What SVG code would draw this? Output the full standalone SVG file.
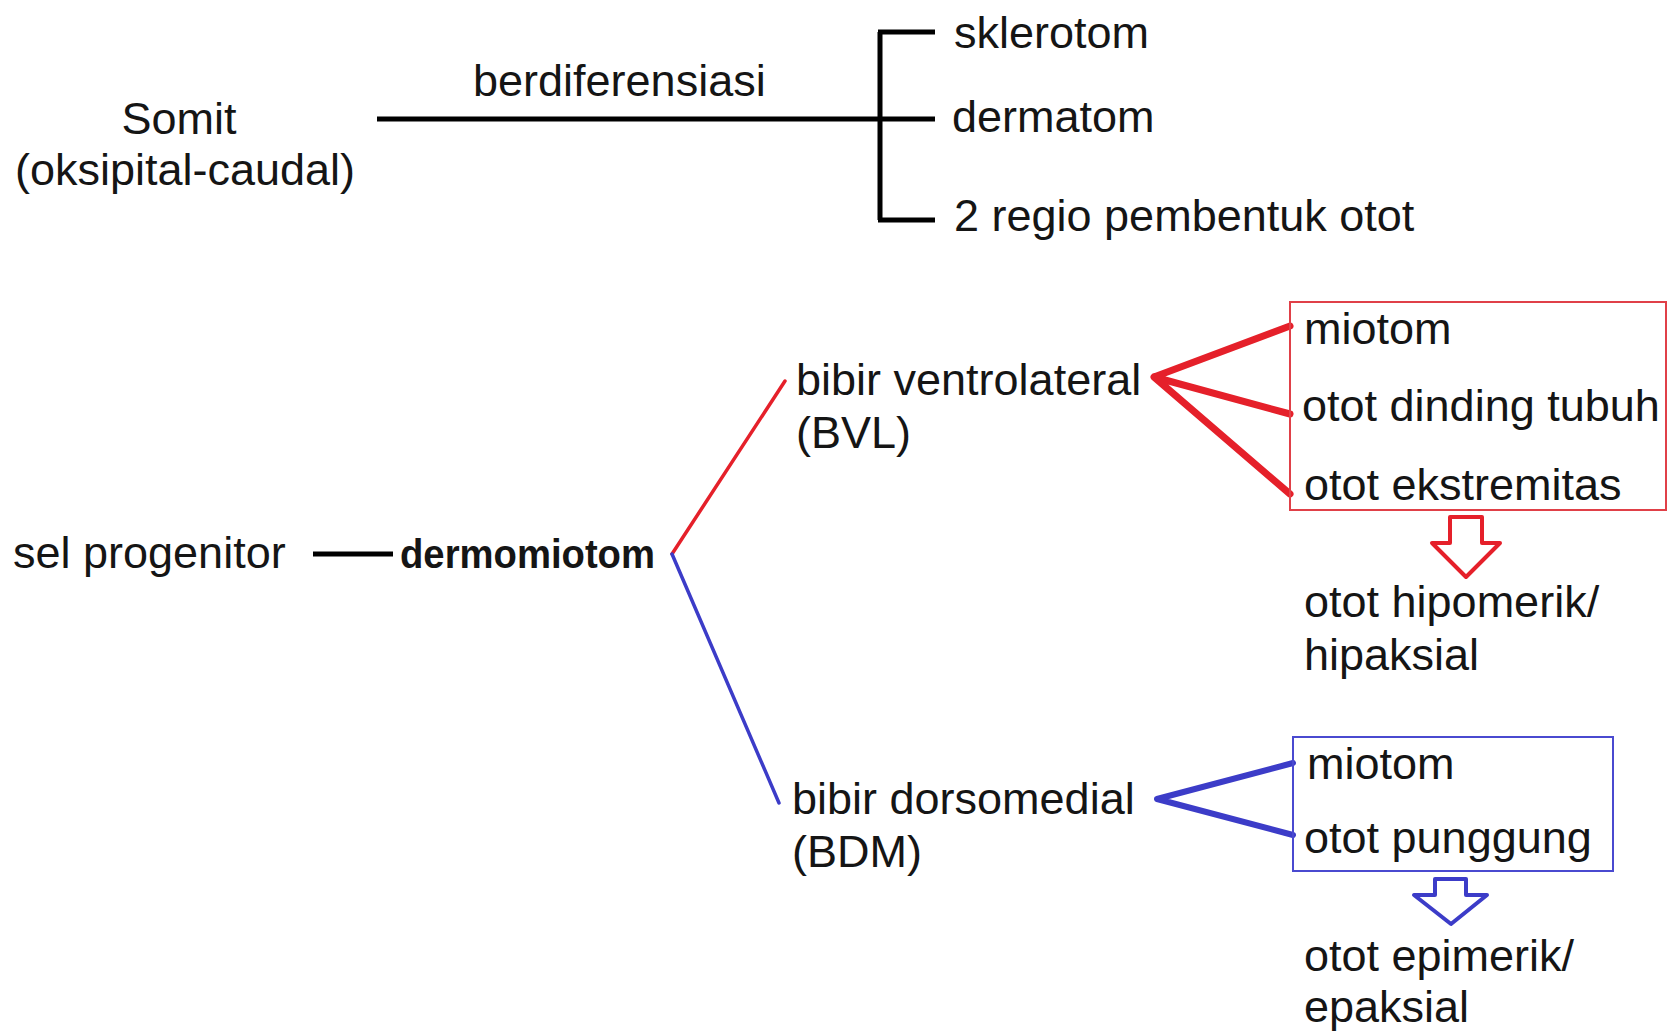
<svg xmlns="http://www.w3.org/2000/svg" width="1675" height="1032" viewBox="0 0 1675 1032">
<style>
text{font-family:"Liberation Sans",Arial,sans-serif;font-size:45px;fill:#151515}
.b{font-weight:bold;font-size:40px}
.k{stroke:#000;stroke-width:5;fill:none}
.r{stroke:#e5202a;fill:none;stroke-linecap:round;stroke-linejoin:round}
.u{stroke:#3c3cc8;fill:none;stroke-linecap:round;stroke-linejoin:round}
</style>
<rect width="1675" height="1032" fill="#fff"/>
<g id="connectors">
<path class="k" d="M377 119H935M880 32V220M878 32H935M878 220H935"/>
<path class="k" d="M313 554H393"/>
<path class="r" stroke-width="3.5" d="M672 554L785 381"/>
<path class="u" stroke-width="3.5" d="M672 554L779 803"/>
<path class="r" stroke-width="7" d="M1290 326L1154 377L1290 414M1154 377L1290 494"/>
<path class="u" stroke-width="6" d="M1293 763L1157 799L1293 835"/>
<polygon class="r" stroke-width="4" fill="#fff" points="1450,517 1482,517 1482,543 1500,543 1466,577 1432,543 1450,543"/>
<polygon class="u" stroke-width="4" fill="#fff" points="1435,879 1466,879 1466,895 1487,895 1451,924 1414,895 1435,895"/>
</g>
<g id="somit"><text x="179" y="134" text-anchor="middle">Somit</text><text x="185" y="185" text-anchor="middle">(oksipital-caudal)</text></g>
<g id="label-berdiferensiasi"><text x="473" y="96">berdiferensiasi</text></g>
<g id="sklerotom"><text x="954" y="48">sklerotom</text></g>
<g id="dermatom"><text x="952" y="132">dermatom</text></g>
<g id="regio"><text x="954" y="231">2 regio pembentuk otot</text></g>
<g id="sel-progenitor"><text x="13" y="568">sel progenitor</text></g>
<g id="dermomiotom"><text class="b" x="400" y="568" textLength="255" lengthAdjust="spacingAndGlyphs">dermomiotom</text></g>
<g id="bvl"><text x="796" y="395">bibir ventrolateral</text><text x="796" y="448">(BVL)</text></g>
<g id="bvl-box"><rect x="1290" y="302" width="376" height="208" fill="none" stroke="#e04048" stroke-width="2"/>
<text x="1304" y="344">miotom</text><text x="1302" y="421">otot dinding tubuh</text><text x="1304" y="500">otot ekstremitas</text></g>
<g id="hipomerik"><text x="1304" y="617">otot hipomerik/</text><text x="1304" y="670">hipaksial</text></g>
<g id="bdm"><text x="792" y="814">bibir dorsomedial</text><text x="792" y="867">(BDM)</text></g>
<g id="bdm-box"><rect x="1293" y="737" width="320" height="134" fill="none" stroke="#4a4ad0" stroke-width="2"/>
<text x="1307" y="779">miotom</text><text x="1304" y="853">otot punggung</text></g>
<g id="epimerik"><text x="1304" y="971">otot epimerik/</text><text x="1304" y="1022">epaksial</text></g>
</svg>
